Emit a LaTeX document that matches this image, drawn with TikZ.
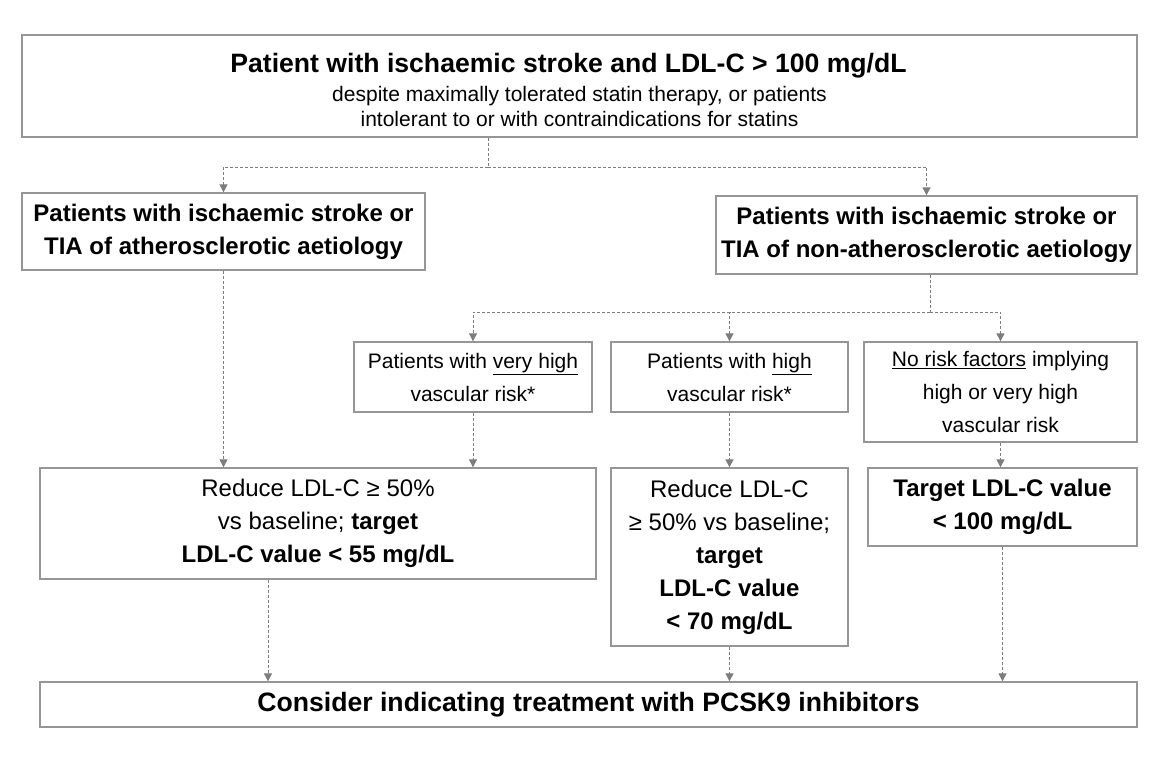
\documentclass[tikz,border=0pt]{standalone}
\usepackage{fontspec}
\setmainfont{Liberation Sans}
\usepackage{xcolor}
\usetikzlibrary{calc, arrows.meta, positioning}

\definecolor{boxline}{RGB}{150,150,150}
\definecolor{linkline}{RGB}{125,125,125}

\begin{document}
\begin{tikzpicture}[x=1pt, y=-1pt,
        box/.style={draw=boxline, line width=1.3pt, inner sep=0pt, align=center},
        link/.style={draw=linkline, line width=0.9pt, dash pattern=on 3pt off 2pt},
        arrow/.style={link, -{Triangle[length=8pt,width=8pt]}, linkline},
        bigbold/.style={font=\fontsize{26.6}{30}\selectfont\bfseries},
        midbold/.style={font=\fontsize{24}{33}\selectfont\bfseries},
        midtext/.style={font=\fontsize{24}{33}\selectfont},
        smalltext/.style={font=\fontsize{21}{33}\selectfont}]
            \useasboundingbox (0,0) rectangle (1171,762);
            % top level
            \node[box, minimum width=1115, minimum height=102, font=\fontsize{21}{24.5}\selectfont] (top) at (579.5,86)
                {\rule{0pt}{27pt}{\fontsize{26.6}{30}\selectfont\bfseries Patient with ischaemic stroke and LDL-C > 100 mg/dL}\hspace*{22pt}\\[5pt]
                 despite maximally tolerated statin therapy, or patients\\
                 intolerant to or with contraindications for statins};
            % aetiology
            \node[box, midbold, minimum width=403, minimum height=77] (athero) at (223.5,231.5)
                {Patients with ischaemic stroke or\\TIA of atherosclerotic aetiology};
            \node[box, midbold, minimum width=421, minimum height=78] (nonathero) at (926.5,235)
                {Patients with ischaemic stroke or\\TIA of non-atherosclerotic aetiology};
            % vascular risk
            \node[box, smalltext, minimum width=238, minimum height=70] (veryhigh) at (473,377)
                {Patients with \underline{very high}\\vascular risk*};
            \node[box, smalltext, minimum width=237, minimum height=70] (high) at (729.5,377)
                {Patients with \underline{high}\\vascular risk*};
            \node[box, smalltext, minimum width=273, minimum height=100] (norisk) at (1000.5,392)
                {\underline{No risk factors} implying\\high or very high\\vascular risk};
            % targets
            \node[box, midtext, minimum width=556, minimum height=111] (target55) at (318,523.5)
                {Reduce LDL-C ≥ 50\%\\vs baseline; \textbf{target}\\\textbf{LDL-C value < 55 mg/dL}};
            \node[box, midtext, minimum width=237, minimum height=178] (target70) at (729.5,557)
                {Reduce LDL-C\\≥ 50\% vs baseline;\\\textbf{target}\\\textbf{LDL-C value}\\\textbf{< 70 mg/dL}};
            \node[box, midbold, minimum width=269, minimum height=78] (target100) at (1002.5,507)
                {Target LDL-C value\\< 100 mg/dL};
            % treatment
            \node[box, bigbold, minimum width=1097, minimum height=45] (pcsk9) at (588.5,704.5)
                {Consider indicating treatment with PCSK9 inhibitors};

            % connectors
            \coordinate (split1) at (488,167);
            \coordinate (split2) at (930,312);
            \coordinate (drop1) at (268,0);
            \draw[link] (top.south -| split1) -- (split1);
            \draw[arrow] (split1) -| (athero.north);
            \draw[arrow] (split1) -| (nonathero.north);
            \draw[link] (nonathero.south -| split2) -- (split2);
            \draw[arrow] (split2) -| (veryhigh.north);
            \draw[arrow] (split2) -| (high.north);
            \draw[arrow] (split2) -| (norisk.north);
            \draw[arrow] (athero.south) -- (athero.south |- target55.north);
            \draw[arrow] (veryhigh.south) -- (veryhigh.south |- target55.north);
            \draw[arrow] (high.south) -- (target70.north);
            \draw[arrow] (norisk.south) -- (norisk.south |- target100.north);
            \draw[arrow] (target55.south -| drop1) -- (pcsk9.north -| drop1);
            \draw[arrow] (target70.south) -- (pcsk9.north -| target70.south);
            \draw[arrow] (target100.south) -- (pcsk9.north -| target100.south);
        \end{tikzpicture}
\end{document}
